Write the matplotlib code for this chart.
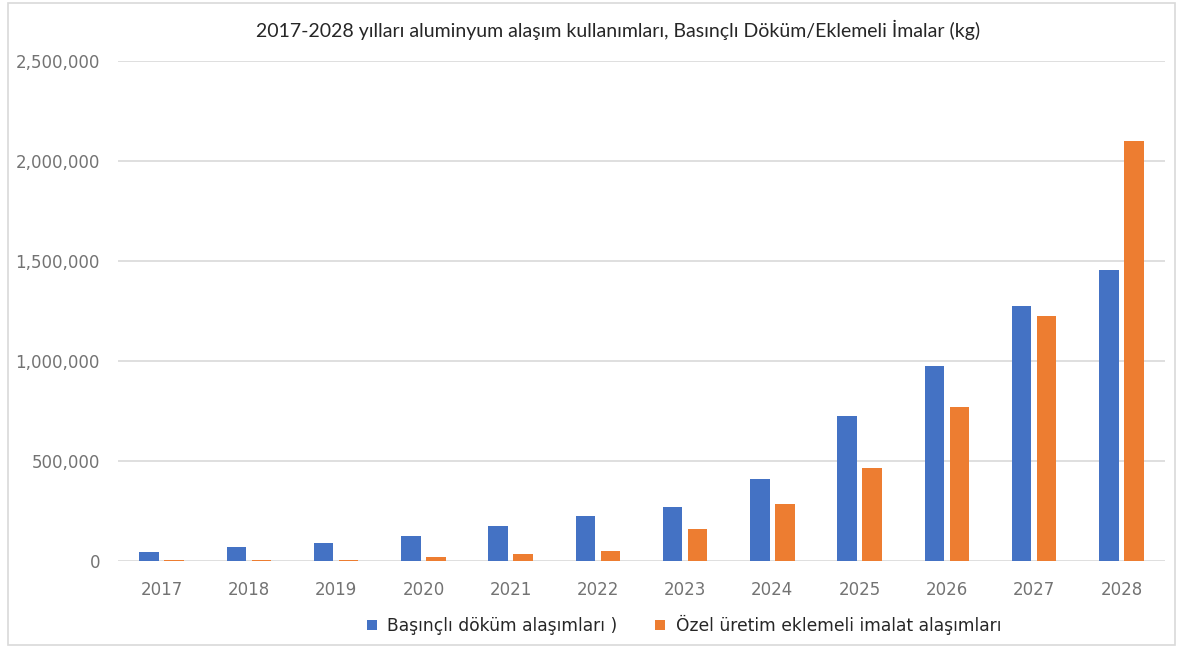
import matplotlib.pyplot as plt
import numpy as np
from matplotlib.ticker import FuncFormatter
from matplotlib.patches import Rectangle

years = ['2017', '2018', '2019', '2020', '2021', '2022',
         '2023', '2024', '2025', '2026', '2027', '2028']
basincli = [45000, 67000, 90000, 125000, 175000, 225000,
            270000, 408000, 725000, 972000, 1275000, 1455000]
eklemeli = [1000, 5000, 5000, 20000, 32000, 47000,
            157000, 283000, 462000, 767000, 1225000, 2100000]

title = '2017-2028 yılları aluminyum alaşım kullanımları, Basınçlı Döküm/Eklemeli İmalar (kg)'
label_blue = 'Başınçlı döküm alaşımları )'
label_orange = 'Özel üretim eklemeli imalat alaşımları'

blue = '#4472C4'
orange = '#ED7D31'
grey = '#737373'

fig = plt.figure(figsize=(11.77, 6.48), dpi=100)
fig.patches.append(Rectangle((8 / 1177, 3 / 648), 1167 / 1177, 642 / 648,
                             transform=fig.transFigure, fill=False,
                             edgecolor='#D9D9D9', linewidth=1.2))
ax = fig.add_axes([118 / 1177, 1 - 560.5 / 648, 1047 / 1177, 500 / 648])

x = np.arange(len(years))
w = 0.223
ax.bar(x - 0.143, basincli, w, color=blue, label=label_blue, zorder=3)
ax.bar(x + 0.143, eklemeli, w, color=orange, label=label_orange, zorder=3)

ax.set_xlim(-0.5, len(years) - 0.5)
ax.set_ylim(0, 2500000)
ax.set_yticks(np.arange(0, 2500001, 500000))
ax.yaxis.set_major_formatter(FuncFormatter(lambda v, p: f'{int(v):,}'))
ax.set_xticks(x)
ax.set_xticklabels(years)
ax.grid(axis='y', color='#D9D9D9', linewidth=1.2, zorder=0)
for s in ax.spines.values():
    s.set_visible(False)
ax.tick_params(length=0, labelsize=12, labelcolor=grey)
ax.tick_params(axis='y', pad=13)
ax.tick_params(axis='x', pad=15)

fig.text(618 / 1177, 1 - 30 / 648, title, ha='center', va='center',
         fontsize=14, family='Lato', color='#262626')

fig.legend(loc='center', bbox_to_anchor=(684 / 1177, 1 - 625 / 648), ncol=2,
           frameon=False, fontsize=12.3, handlelength=0.6, handleheight=0.6,
           columnspacing=2.2, handletextpad=0.6,
           labelcolor='#262626')

fig.savefig('out.png', dpi=100)
